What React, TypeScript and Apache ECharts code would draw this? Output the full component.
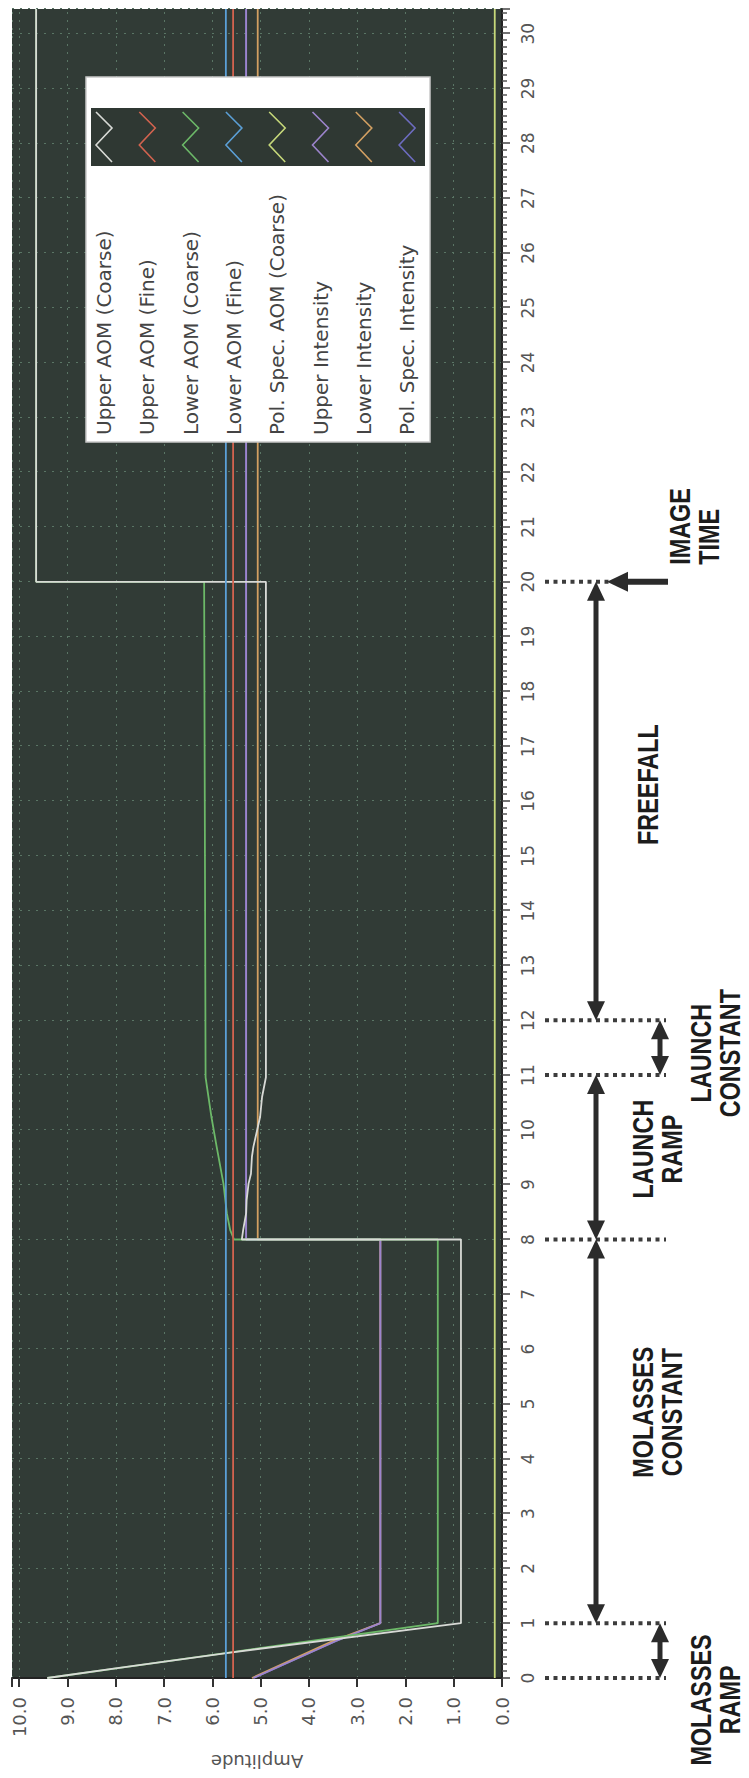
import React, { useEffect, useRef } from "react";
import * as echarts from "echarts";

// ---------- data (time on the original x axis, amplitude on y) ----------
const SERIES_NAMES = [
  "Upper AOM (Coarse)",
  "Upper AOM (Fine)",
  "Lower AOM (Coarse)",
  "Lower AOM (Fine)",
  "Pol. Spec. AOM (Coarse)",
  "Upper Intensity",
  "Lower Intensity",
  "Pol. Spec. Intensity",
];
const SERIES_COLORS = [
  "#d8dad6",
  "#d2634f",
  "#6cb868",
  "#5b9fd6",
  "#c6d87a",
  "#9c84cc",
  "#d3a062",
  "#6d6cc0",
];

const UPPER_AOM_COARSE: [number, number][] = [
  [0, 9.42], [0.18, 7.97], [0.46, 5.67], [1, 0.85], [8, 0.85], [8, 5.39],
  [8.18, 5.36], [8.48, 5.3], [8.72, 5.29], [9.02, 5.25], [9.2, 5.2], [9.51, 5.18],
  [9.69, 5.15], [10.24, 5.01], [10.6, 4.97], [10.96, 4.89], [20, 4.89], [20, 9.65],
  [30.45, 9.65],
];
const UPPER_AOM_FINE: [number, number][] = [[0, 5.57], [30.45, 5.57]];
const LOWER_AOM_COARSE: [number, number][] = [
  [0, 9.42], [0.18, 7.95], [0.46, 5.7], [1, 1.33], [8, 1.33], [8, 5.55], [8.17, 5.63],
  [8.48, 5.7], [9.02, 5.77], [9.69, 5.91], [10.24, 6.02], [10.96, 6.14], [20, 6.17],
  [20, 9.65], [30.45, 9.65],
];
const LOWER_AOM_FINE: [number, number][] = [[0, 5.72], [30.45, 5.72]];
const POL_SPEC_AOM_COARSE: [number, number][] = [[0, 0.15], [30.45, 0.15]];
const UPPER_INTENSITY: [number, number][] = [
  [0, 5.15], [0.67, 3.45], [1, 2.52], [8, 2.52], [8, 5.3], [30.45, 5.3],
];
const LOWER_INTENSITY: [number, number][] = [
  [0, 5.18], [0.67, 3.52], [1, 2.52], [8, 2.52], [8, 5.06], [30.45, 5.06],
];
const POL_SPEC_INTENSITY: [number, number][] = [
  [0, 5.15], [0.67, 3.45], [1, 2.52], [8, 2.52], [8, 5.3], [30.45, 5.3],
];

// drawing order (first = bottom)
const DRAW_ORDER = [7, 6, 5, 2, 0, 1, 3, 4];

const TIME_MIN = 0;
const TIME_MAX = 30.45;
const AMP_MIN = 0;
const AMP_MAX = 10.15;

// phase annotations below the time axis
const MARKER_TIMES = [0, 1, 8, 11, 12, 20];
const PHASE_ARROWS = [
  { from: 0, to: 1, row: "short" },
  { from: 1, to: 8, row: "long" },
  { from: 8, to: 11, row: "long" },
  { from: 11, to: 12, row: "short" },
  { from: 12, to: 20, row: "long" },
];
const PHASE_LABELS = [
  { text: "MOLASSES\nRAMP", at: -0.4, row: "short" },
  { text: "MOLASSES\nCONSTANT", at: 4.85, row: "long" },
  { text: "LAUNCH\nRAMP", at: 9.65, row: "long" },
  { text: "LAUNCH\nCONSTANT", at: 11.4, row: "short" },
  { text: "FREEFALL", at: 16.3, row: "long" },
];
const IMAGE_TIME = 20;
const IMAGE_TIME_LABEL = "IMAGE\nTIME";

export default function App() {
  const ref = useRef<HTMLDivElement>(null);

  useEffect(() => {
    if (!ref.current) return;
    const chart = echarts.init(ref.current, null, { renderer: "svg" });
    const allData = [
      UPPER_AOM_COARSE, UPPER_AOM_FINE, LOWER_AOM_COARSE, LOWER_AOM_FINE,
      POL_SPEC_AOM_COARSE, UPPER_INTENSITY, LOWER_INTENSITY, POL_SPEC_INTENSITY,
    ];
    const series = DRAW_ORDER.map((i) => ({
      name: SERIES_NAMES[i],
      type: "line",
      data: allData[i],
      symbol: "none",
      showSymbol: false,
      silent: true,
      lineStyle: { color: SERIES_COLORS[i], width: 1.8 },
      itemStyle: { color: SERIES_COLORS[i] },
    }));

    const intOnly = (digits: number) => (v: number) =>
      Math.abs(v - Math.round(v)) < 1e-6 ? Math.round(v).toFixed(digits) : "";

    const grid = { left: 95, right: 9, top: 12, bottom: 247 };

    chart.setOption({
      animation: false,
      backgroundColor: "#ffffff",
      grid: { ...grid, show: true, backgroundColor: "#313b36", borderWidth: 0 },
      xAxis: {
        type: "value",
        min: TIME_MIN,
        max: TIME_MAX,
        interval: 1,
        axisLine: { show: true, lineStyle: { color: "#222", width: 2 } },
        axisTick: { show: true, length: 8, lineStyle: { color: "#444", width: 1.5 } },
        minorTick: { show: true, splitNumber: 8, length: 5, lineStyle: { color: "#555", width: 1.5 } },
        axisLabel: {
          fontSize: 17,
          color: "#555",
          margin: 17,
          fontFamily: "DejaVu Sans",
          formatter: intOnly(0),
        },
        splitLine: { show: true, lineStyle: { color: "#5a7565", width: 1, type: [2, 6] } },
      },
      yAxis: {
        type: "value",
        min: AMP_MIN,
        max: AMP_MAX,
        interval: 1,
        name: "Amplitude",
        nameLocation: "middle",
        nameGap: 74,
        nameTextStyle: { fontSize: 18, color: "#555", fontFamily: "DejaVu Sans" },
        axisLine: { show: true, lineStyle: { color: "#222", width: 2 } },
        axisTick: { show: true, length: 9, lineStyle: { color: "#333", width: 2 } },
        axisLabel: {
          fontSize: 18,
          color: "#555",
          margin: 19,
          fontFamily: "DejaVu Sans",
          formatter: intOnly(1),
        },
        splitLine: { show: true, lineStyle: { color: "#5a7565", width: 1, type: [2, 6] } },
      },
      series,
    });

    const px = (t: number) => chart.convertToPixel({ xAxisIndex: 0 }, t) as number;

    const els: any[] = [];
    // dotted marker lines
    MARKER_TIMES.forEach((t) => {
      const x = px(t);
      const yEnd = t === IMAGE_TIME ? 612 : 666;
      els.push({
        type: "line",
        shape: { x1: x, y1: 545, x2: x, y2: yEnd },
        style: { stroke: "#3c3c3c", lineWidth: 4, lineDash: [4, 4.5] },
        z: 20,
      });
    });

    const arrowY: Record<string, number> = { long: 596, short: 660 };
    const headLen = 19;
    const headW = 18;
    PHASE_ARROWS.forEach((a) => {
      const x1 = px(a.from);
      const x2 = px(a.to);
      const y = arrowY[a.row];
      els.push({
        type: "line",
        shape: { x1: x1 + headLen - 2, y1: y, x2: x2 - headLen + 2, y2: y },
        style: { stroke: "#2b2b2b", lineWidth: 5 },
        z: 21,
      });
      els.push({
        type: "polygon",
        shape: { points: [[x1, y], [x1 + headLen, y - headW / 2], [x1 + headLen, y + headW / 2]] },
        style: { fill: "#2b2b2b" },
        z: 21,
      });
      els.push({
        type: "polygon",
        shape: { points: [[x2, y], [x2 - headLen, y - headW / 2], [x2 - headLen, y + headW / 2]] },
        style: { fill: "#2b2b2b" },
        z: 21,
      });
    });

    // image time arrow (pointing to the axis)
    const xi = px(IMAGE_TIME);
    els.push({
      type: "line",
      shape: { x1: xi, y1: 626, x2: xi, y2: 668 },
      style: { stroke: "#2b2b2b", lineWidth: 6 },
      z: 21,
    });
    els.push({
      type: "polygon",
      shape: { points: [[xi, 607], [xi - 10, 628], [xi + 10, 628]] },
      style: { fill: "#2b2b2b" },
      z: 21,
    });

    const labelY: Record<string, number> = { long: 657, short: 715 };
    const labelFont = { fontSize: 30, fontWeight: "bold", fontFamily: "Liberation Sans" };
    const squeeze = 0.78;
    PHASE_LABELS.forEach((l) => {
      const single = l.text.indexOf("\n") < 0;
      els.push({
        type: "text",
        x: px(l.at),
        y: single ? labelY[l.row] - 9 : labelY[l.row],
        scaleX: squeeze,
        style: {
          text: l.text,
          ...labelFont,
          fill: "#1c1c1c",
          align: "center",
          verticalAlign: "middle",
          lineHeight: 29,
        },
        z: 22,
      });
    });
    els.push({
      type: "text",
      x: xi + 17,
      y: 694,
      scaleX: squeeze,
      style: {
        text: IMAGE_TIME_LABEL,
        ...labelFont,
        fill: "#1c1c1c",
        align: "left",
        verticalAlign: "middle",
        lineHeight: 29,
      },
      z: 22,
    });

    // legend box (label on the left, line sample on the right)
    const boxX = 1336, boxY = 86, boxW = 365, boxH = 344;
    els.push({
      type: "rect",
      shape: { x: boxX, y: boxY, width: boxW, height: boxH },
      style: { fill: "#ffffff", stroke: "#c9c9c9", lineWidth: 1.5 },
      z: 30,
    });
    els.push({
      type: "rect",
      shape: { x: 1612, y: 91, width: 58, height: 334 },
      style: { fill: "#2f3833" },
      z: 31,
    });
    SERIES_NAMES.forEach((name, i) => {
      const cy = 104 + i * 43.3;
      els.push({
        type: "text",
        x: 1343,
        y: cy,
        style: {
          text: name,
          fontSize: 20,
          fontFamily: "DejaVu Sans",
          fill: "#444444",
          align: "left",
          verticalAlign: "middle",
        },
        z: 32,
      });
      els.push({
        type: "polyline",
        shape: { points: [[1616, cy + 8], [1633, cy - 8], [1650, cy + 8], [1666, cy - 8]] },
        style: { stroke: SERIES_COLORS[i], lineWidth: 1.6, fill: null },
        z: 32,
      });
    });

    chart.setOption({ graphic: els });

    return () => chart.dispose();
  }, []);

  return (
    <div
      style={{
        position: "fixed",
        left: 0,
        top: 0,
        width: 749,
        height: 1778,
        overflow: "hidden",
        background: "#ffffff",
      }}
    >
      <div
        ref={ref}
        style={{
          position: "absolute",
          left: 0,
          top: 0,
          width: 1778,
          height: 749,
          transformOrigin: "0 0",
          transform: "translateY(1778px) rotate(-90deg)",
        }}
      />
    </div>
  );
}
